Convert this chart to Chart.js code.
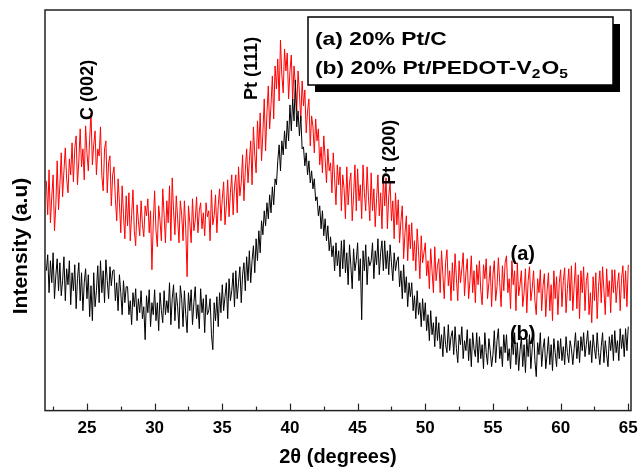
<!DOCTYPE html>
<html>
<head>
<meta charset="utf-8">
<script src="https://cdn.jsdelivr.net/npm/chart.js@4.4.0/dist/chart.umd.min.js"></script>
<style>
  body { margin: 0; background: #fff; }
</style>
</head>
<body>
<canvas id="xrd" width="639" height="467"></canvas>
<script>
// sampling grid of the patterns (2theta, degrees)
var thetaStart = 22;
var thetaStep = 0.1;

// (a) 20% Pt/C, one row per degree (22 .. 64), then 65
var ptC = [
  230, 196, 241, 188, 214, 236, 180, 205, 250, 201,
  226, 258, 214, 240, 263, 232, 218, 252, 236, 268,
  229, 262, 275, 226, 250, 282, 244, 262, 231, 285,
  258, 240, 272, 298, 246, 266, 280, 236, 262, 255,
  284, 235, 220, 262, 270, 218, 248, 255, 205, 236,
  244, 212, 190, 232, 208, 178, 225, 196, 172, 215,
  185, 218, 170, 196, 221, 180, 165, 206, 190, 175,
  210, 186, 174, 205, 195, 212, 178, 200, 141, 188,
  220, 180, 164, 205, 190, 170, 222, 196, 168, 210,
  188, 225, 170, 233, 200, 176, 215, 192, 168, 210,
  196, 170, 210, 182, 134, 205, 188, 168, 212, 180,
  190, 214, 178, 200, 208, 182, 198, 175, 208, 194,
  200, 170, 221, 186, 195, 216, 178, 205, 222, 190,
  212, 229, 186, 205, 231, 194, 218, 236, 196, 224,
  236, 198, 244, 215, 228, 256, 210, 240, 262, 228,
  250, 270, 226, 284, 256, 238, 290, 262, 298, 250,
  278, 312, 260, 298, 325, 282, 306, 335, 292, 345,
  322, 352, 310, 371, 336, 318, 362, 340, 358, 312,
  340, 356, 310, 345, 326, 300, 340, 318, 290, 330,
  305, 321, 278, 300, 312, 265, 295, 284, 258, 292,
  270, 282, 246, 264, 238, 275, 252, 228, 262, 240,
  248, 218, 258, 232, 206, 246, 226, 244, 200, 236,
  222, 192, 244, 206, 228, 238, 190, 215, 246, 200,
  242, 210, 226, 192, 246, 218, 200, 244, 214, 190,
  238, 200, 222, 184, 212, 236, 195, 218, 182, 234,
  205, 233, 182, 215, 228, 190, 210, 172, 218, 186,
  211, 168, 190, 205, 152, 178, 195, 150, 186, 162,
  188, 150, 170, 140, 182, 160, 132, 175, 148, 158,
  168, 135, 150, 122, 162, 140, 118, 164, 130, 145,
  152, 118, 160, 136, 112, 148, 161, 125, 140, 110,
  148, 120, 157, 132, 110, 150, 128, 142, 158, 115,
  138, 152, 112, 130, 155, 118, 140, 108, 146, 126,
  150, 120, 106, 146, 132, 152, 112, 128, 145, 104,
  136, 150, 110, 124, 153, 128, 104, 145, 120, 148,
  155, 118, 132, 102, 150, 126, 140, 100, 148, 115,
  126, 140, 104, 118, 142, 98, 130, 144, 110, 122,
  140, 110, 96, 132, 118, 141, 100, 125, 137, 94,
  120, 138, 100, 126, 90, 140, 112, 134, 96, 128,
  141, 104, 130, 143, 98, 122, 142, 110, 145, 100,
  125, 148, 102, 136, 92, 140, 118, 144, 100, 130,
  138, 96, 118, 88, 134, 110, 138, 92, 124, 140,
  108, 144, 120, 96, 142, 114, 130, 98, 141, 118,
  141, 108, 126, 138, 100, 132, 145, 112, 140, 104,
  146
];

// (b) 20% Pt/PEDOT-V2O5
var ptPedot = [
  140, 156, 118, 150, 128, 158, 112, 135, 152, 120,
  148, 115, 130, 154, 110, 142, 126, 150, 106, 138,
  120, 146, 102, 132, 148, 110, 138, 100, 128, 142,
  112, 136, 94, 125, 90, 138, 104, 120, 145, 108,
  150, 118, 140, 108, 151, 130, 112, 144, 125, 140,
  141, 110, 128, 100, 136, 118, 96, 130, 108, 124,
  124, 96, 110, 86, 118, 104, 122, 90, 112, 98,
  120, 92, 104, 71, 115, 98, 121, 84, 108, 96,
  121, 90, 108, 80, 118, 100, 88, 120, 96, 110,
  98, 128, 86, 112, 126, 90, 118, 104, 82, 125,
  112, 84, 120, 96, 78, 118, 100, 121, 86, 108,
  124, 92, 106, 82, 122, 98, 112, 78, 116, 96,
  100, 112, 76, 61, 108, 90, 114, 84, 118, 98,
  126, 100, 114, 128, 92, 132, 110, 120, 138, 104,
  140, 112, 128, 144, 108, 136, 148, 120, 154, 130,
  160, 128, 150, 165, 138, 172, 150, 180, 158, 190,
  176, 200, 185, 208, 192, 216, 198, 224, 206, 232,
  226, 250, 266, 240, 270, 256, 280, 262, 290, 270,
  306, 280, 312, 290, 331, 284, 300, 275, 295, 262,
  264, 245, 258, 236, 250, 228, 240, 222, 232, 210,
  214, 195, 205, 182, 200, 175, 192, 170, 185, 160,
  174, 154, 165, 140, 168, 145, 160, 134, 170, 142,
  171, 138, 158, 126, 166, 145, 122, 162, 140, 150,
  168, 130, 152, 91, 160, 140, 166, 126, 154, 145,
  150, 168, 132, 160, 146, 172, 136, 158, 170, 140,
  170, 142, 160, 136, 166, 148, 130, 158, 140, 150,
  154, 124, 140, 112, 146, 118, 134, 104, 128, 114,
  128, 100, 115, 92, 120, 96, 108, 84, 112, 90,
  108, 80, 96, 70, 100, 76, 88, 64, 94, 70,
  88, 62, 76, 54, 84, 66, 58, 86, 60, 74,
  80, 56, 84, 62, 48, 76, 66, 84, 52, 70,
  60, 81, 50, 72, 44, 78, 62, 54, 78, 48,
  74, 52, 66, 42, 78, 58, 46, 72, 60, 44,
  56, 80, 48, 70, 82, 52, 64, 44, 76, 58,
  76, 50, 62, 42, 74, 56, 78, 46, 68, 40,
  60, 74, 44, 66, 38, 72, 54, 76, 42, 62,
  80, 50, 34, 68, 56, 78, 44, 62, 72, 42,
  56, 74, 46, 66, 40, 72, 58, 44, 70, 52,
  72, 50, 64, 46, 74, 58, 48, 70, 62, 46,
  62, 78, 52, 70, 48, 74, 60, 78, 54, 66,
  80, 56, 70, 48, 76, 62, 52, 78, 58, 46,
  64, 78, 48, 70, 56, 44, 74, 60, 76, 50,
  80, 58, 70, 50, 82, 62, 76, 54, 82, 60,
  84
];

var xTicks = [25, 30, 35, 40, 45, 50, 55, 60, 65];

// peak labels: text, 2theta, intensity where the text starts
var peakNames = ['C (002)', 'Pt (111)', 'Pt (200)'];
var peakTheta = [25.1, 37.2, 47.4];
var peakY = [291, 311, 226];

var legendLines = ['(a) 20% Pt/C', '(b) 20% Pt/PEDOT-V'];

function toPoints(arr) {
  var pts = [];
  for (var i = 0; i < arr.length; i++) {
    pts.push({x: thetaStart + i * thetaStep, y: arr[i]});
  }
  return pts;
}

var fam = '"Liberation Sans", Arial, sans-serif';

var decorations = {
  id: 'decorations',
  afterDraw: function(chart) {
    var ctx = chart.ctx;
    var a = chart.chartArea;
    var xs = chart.scales.x;
    var ys = chart.scales.y;
    ctx.save();

    // frame
    ctx.strokeStyle = '#222';
    ctx.lineWidth = 1.5;
    ctx.strokeRect(a.left, a.top, a.right - a.left, a.bottom - a.top);

    // inward ticks on the bottom axis
    ctx.lineWidth = 1.2;
    for (var t = 22.5; t <= 65; t += 2.5) {
      var px = Math.round(xs.getPixelForValue(t)) + 0.5;
      var len = (t % 5 === 0) ? 7 : 4;
      ctx.beginPath();
      ctx.moveTo(px, a.bottom);
      ctx.lineTo(px, a.bottom - len);
      ctx.stroke();
    }

    // y title
    ctx.fillStyle = '#000';
    ctx.save();
    ctx.translate(21, 246);
    ctx.rotate(-Math.PI / 2);
    ctx.font = 'bold 21px ' + fam;
    ctx.textAlign = 'center';
    ctx.textBaseline = 'middle';
    ctx.fillText('Intensity (a.u)', 0, 0);
    ctx.restore();

    // peak labels, rotated
    ctx.font = 'bold 18px ' + fam;
    ctx.textAlign = 'left';
    ctx.textBaseline = 'middle';
    for (var i = 0; i < peakNames.length; i++) {
      ctx.save();
      ctx.translate(xs.getPixelForValue(peakTheta[i]), ys.getPixelForValue(peakY[i]));
      ctx.rotate(-Math.PI / 2);
      ctx.fillText(peakNames[i], 0, 0);
      ctx.restore();
    }

    // (a) / (b) curve tags
    ctx.font = 'bold 20px ' + fam;
    ctx.textAlign = 'center';
    ctx.fillText('(a)', xs.getPixelForValue(57.2), ys.getPixelForValue(156));
    ctx.fillText('(b)', xs.getPixelForValue(57.2), ys.getPixelForValue(76));

    // legend box with drop shadow
    var bx = 308, by = 17, bw = 305, bh = 68;
    ctx.fillStyle = '#000';
    ctx.fillRect(bx + 7, by + 7, bw, bh);
    ctx.fillStyle = '#fff';
    ctx.fillRect(bx, by, bw, bh);
    ctx.strokeStyle = '#000';
    ctx.lineWidth = 1.5;
    ctx.strokeRect(bx, by, bw, bh);

    ctx.fillStyle = '#000';
    ctx.textAlign = 'left';
    ctx.textBaseline = 'alphabetic';
    ctx.save();
    ctx.translate(bx + 7, by);
    ctx.scale(1.2, 1);
    var big = 'bold 19px ' + fam, small = 'bold 13px ' + fam;
    ctx.font = big;
    ctx.fillText(legendLines[0], 0, 28);
    var lx = 0, ly = 57;
    ctx.fillText(legendLines[1], lx, ly);
    lx += ctx.measureText(legendLines[1]).width;
    ctx.font = small;
    ctx.fillText('2', lx, ly + 4);
    lx += ctx.measureText('2').width + 1;
    ctx.font = big;
    ctx.fillText('O', lx, ly);
    lx += ctx.measureText('O').width;
    ctx.font = small;
    ctx.fillText('5', lx, ly + 4);
    ctx.restore();

    ctx.restore();
  }
};

var ctx = document.getElementById('xrd');
var myChart = new Chart(ctx, {
  type: 'line',
  data: {
    datasets: [{
      label: '(a) 20% Pt/C',
      data: toPoints(ptC),
      borderColor: '#ff0000',
      borderWidth: 1,
      pointRadius: 0,
      order: 2
    }, {
      label: '(b) 20% Pt/PEDOT-V2O5',
      data: toPoints(ptPedot),
      borderColor: '#000000',
      borderWidth: 1,
      pointRadius: 0,
      order: 1
    }]
  },
  options: {
    responsive: false,
    animation: false,
    devicePixelRatio: 1,
    layout: { padding: { top: 10, right: 8, left: 45, bottom: 0 } },
    plugins: { legend: { display: false }, tooltip: { enabled: false } },
    scales: {
      x: {
        type: 'linear',
        min: 21.9,
        max: 65.2,
        afterBuildTicks: function(scale) {
          scale.ticks = xTicks.map(function(v) { return {value: v}; });
        },
        afterFit: function(scale) {
          // let the "65" label sit at the canvas edge like the original
          scale.paddingLeft = 0;
          scale.paddingRight = 0;
        },
        grid: { display: false, drawTicks: false },
        border: { display: false },
        ticks: {
          color: '#000',
          padding: 8,
          maxRotation: 0,
          font: { family: fam, size: 17, weight: 'bold' }
        },
        title: {
          display: true,
          text: '2θ (degrees)',
          color: '#000',
          padding: { top: 0, bottom: 0 },
          font: { family: fam, size: 20, weight: 'bold', lineHeight: 1.0 }
        }
      },
      y: {
        display: false,
        min: 0,
        max: 401
      }
    }
  },
  plugins: [decorations]
});
</script>
</body>
</html>
